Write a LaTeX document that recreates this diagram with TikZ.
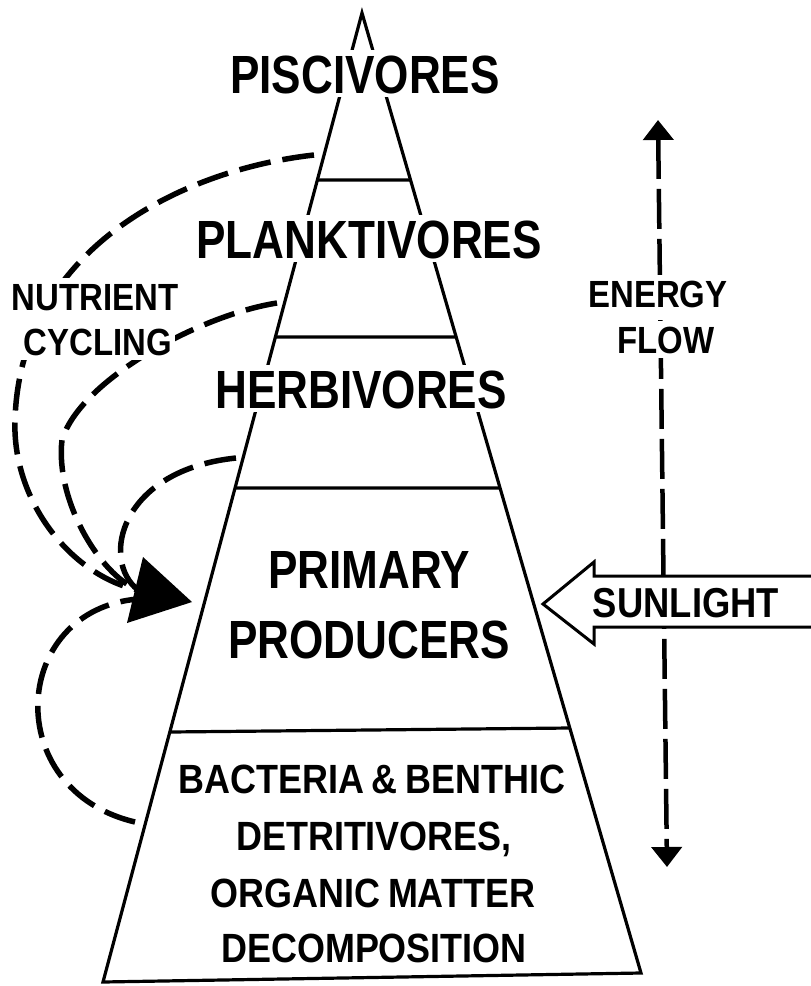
\documentclass[tikz,border=0pt]{standalone}
\usepackage{fontspec}
\setmainfont{Liberation Sans}
\newfontfamily\bigf{Liberation Sans}[FakeStretch=0.82]
\newfontfamily\sidef{Liberation Sans}[FakeStretch=0.87]
\newfontfamily\botf{Liberation Sans}[FakeStretch=0.88, WordSpace=0.75]
\usetikzlibrary{arrows.meta,calc}
\begin{document}
\begin{tikzpicture}[x=1bp,y=-1bp,
  pyr/.style={line width=3.2bp},
  cyc/.style={line width=5.5bp, dash pattern=on 32bp off 12bp},
  eflow/.style={line width=4.5bp, dash pattern=on 40bp off 10bp,
    {Triangle[length=20bp,width=30bp]}-{Triangle[length=20bp,width=30bp]}},
  biglab/.style={font=\bigf\bfseries\fontsize{54}{60}\selectfont, text height=38.7bp, text depth=0bp, inner xsep=3bp, inner ysep=4bp, anchor=base},
  sidelab/.style={font=\sidef\bfseries\fontsize{38}{44}\selectfont, text height=27.2bp, text depth=0bp, inner xsep=3bp, inner ysep=5bp, anchor=base},
  botlab/.style={font=\botf\bfseries\fontsize{41}{56}\selectfont, text height=29.4bp, text depth=0bp, inner sep=0bp, anchor=base},
  mask/.style={fill=white}
]
\useasboundingbox (0,0) rectangle (811,986);

% energy flow
\coordinate (eftop) at (658,120);
\coordinate (efbot) at (667,867);
\draw[eflow] (eftop) -- (efbot);

% pyramid
\coordinate (apex) at (362,13);
\coordinate (bl) at (103,982);
\coordinate (br) at (641,973);
\draw[pyr, line join=miter] (apex) -- (bl) -- (br) -- cycle;
\draw[pyr] ($(apex)!0.1723!(bl)$) -- ($(apex)!0.1740!(br)$);
\draw[pyr] ($(apex)!0.3344!(bl)$) -- ($(apex)!0.3375!(br)$);
\draw[pyr] ($(apex)!0.4902!(bl)$) -- ($(apex)!0.4948!(br)$);
\draw[pyr] ($(apex)!0.7420!(bl)$) -- ($(apex)!0.7448!(br)$);

% nutrient cycling curves
\coordinate (c1s) at (314,155);
\coordinate (c2s) at (277,303);
\coordinate (c3s) at (236,458);
\coordinate (c4s) at (135,822);
\coordinate (ahin) at (138,590);
\coordinate (ahin4) at (138,599);
\draw[cyc] (c1s) .. controls (180,170) and (20,250) .. (15,420)
  .. controls (12,500) and (70,575) .. (ahin);
\draw[cyc] (c2s) .. controls (200,315) and (80,380) .. (62,440)
  .. controls (55,500) and (100,575) .. (ahin);
\draw[cyc] (c3s) .. controls (120,470) and (100,560) .. (ahin);
\draw[cyc] (c4s) .. controls (0,790) and (10,610) .. (ahin4);

% big arrowhead
\coordinate (ahup) at (143,557);
\coordinate (ahtip) at (192,602);
\coordinate (ahlo) at (127,623);
\fill (ahup) -- (ahtip) -- (ahlo) -- cycle;

% sunlight arrow
\filldraw[fill=white, line width=3bp, line join=miter]
  (811,576) -- (594,576) -- (594,562) -- (543,604) -- (594,644) -- (594,627) -- (811,627);
\node[sidelab, font=\sidef\bfseries\fontsize{42}{48}\selectfont, text height=30bp] (sun) at (686,617) {SUNLIGHT};

% labels
\node[biglab, mask] (pisc) at (365,93) {PISCIVORES};
\node[biglab, mask] (plank) at (369,258) {PLANKTIVORES};
\node[biglab, mask] (herb) at (361,408) {HERBIVORES};
\node[biglab] (prim) at (369,588) {PRIMARY};
\node[biglab] (prod) at (369,658) {PRODUCERS};

\node[botlab] (bac) at (372,793) {BACTERIA \& BENTHIC};
\node[botlab] (det) at (374,850) {DETRITIVORES,};
\node[botlab] (org) at (373,907) {ORGANIC MATTER};
\node[botlab] (dec) at (374,962) {DECOMPOSITION};

\node[sidelab, mask, text depth=10bp] (nut) at (95,310) {NUTRIENT};
\node[sidelab, mask] (cyc) at (98,355) {CYCLING};
\node[sidelab, mask, text depth=8bp] (ene) at (658,307) {ENERGY};
\node[sidelab, mask] (flo) at (666,353) {FLOW};
\end{tikzpicture}
\end{document}
